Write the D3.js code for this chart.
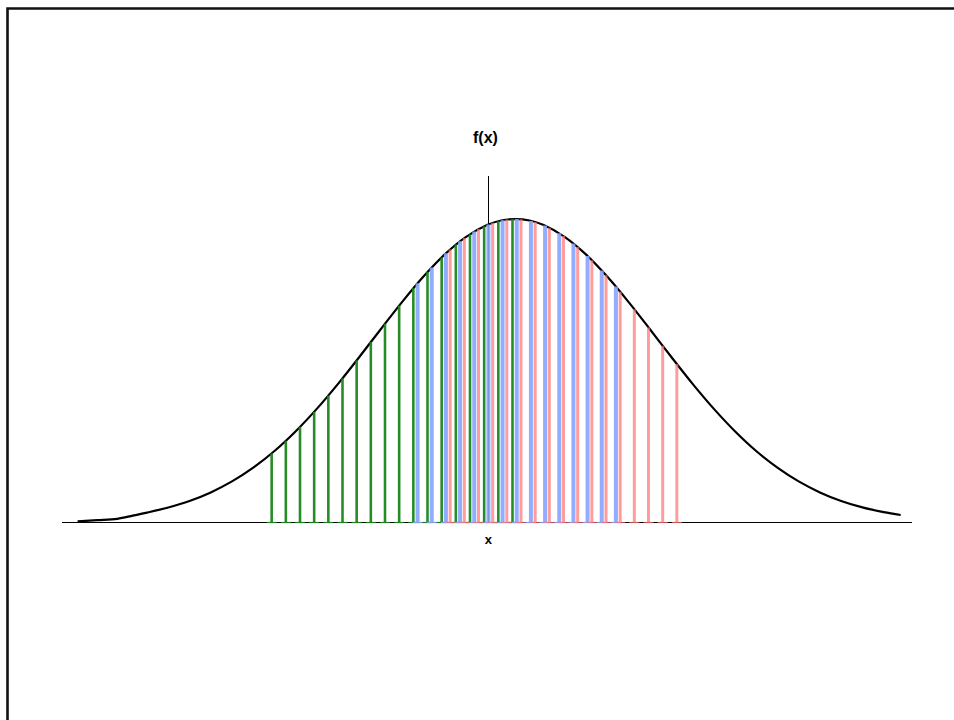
<!DOCTYPE html>
<html>
<head>
<meta charset="utf-8">
<script src="https://cdn.jsdelivr.net/npm/d3@7"></script>
<style>
  html, body { margin: 0; padding: 0; background: #fff; }
  svg { display: block; }
</style>
</head>
<body>
<svg id="chart" width="954" height="720"></svg>
<script>
// Density curve, sampled points (x in standard units, f(x))
const curveX = [-3.09, -2.95, -2.81, -2.7, -2.6, -2.45, -2.3, -2.15, -2.0, -1.85, -1.7, -1.55, -1.4, -1.25, -1.1, -0.95, -0.8, -0.65, -0.5, -0.35, -0.2, -0.1, 0,
                0.1, 0.2, 0.35, 0.5, 0.65, 0.8, 0.95, 1.1, 1.25, 1.4, 1.55, 1.7, 1.85, 2.0, 2.15, 2.3, 2.45, 2.6, 2.72];
const curveY = [0.0015, 0.0030, 0.0048, 0.0090, 0.0130, 0.0198, 0.0283, 0.0396, 0.0540, 0.0721, 0.0940, 0.1200, 0.1497, 0.1826, 0.2179, 0.2541, 0.2897, 0.3230, 0.3521, 0.3752, 0.3910, 0.3970, 0.3989,
                0.3970, 0.3910, 0.3752, 0.3521, 0.3230, 0.2897, 0.2541, 0.2179, 0.1826, 0.1497, 0.1200, 0.0940, 0.0721, 0.0540, 0.0396, 0.0283, 0.0198, 0.0136, 0.0099];

// Drop lines of the three sampled series
const greenX = [-1.72, -1.62, -1.52, -1.42, -1.32, -1.22, -1.12, -1.02, -0.92, -0.82, -0.72, -0.62, -0.52, -0.42, -0.32, -0.22, -0.12, -0.02];
const greenY = [0.0909, 0.1074, 0.1257, 0.1456, 0.1669, 0.1895, 0.2131, 0.2371, 0.2613, 0.2850, 0.3079, 0.3292, 0.3485, 0.3653, 0.3790, 0.3894, 0.3961, 0.3989];

const blueX = [-0.69, -0.59, -0.49, -0.39, -0.29, -0.19, -0.09, 0.01, 0.11, 0.21, 0.31, 0.41, 0.51, 0.61, 0.71];
const blueY = [0.3145, 0.3352, 0.3538, 0.3697, 0.3825, 0.3918, 0.3973, 0.3989, 0.3965, 0.3903, 0.3802, 0.3668, 0.3503, 0.3312, 0.3101];

const redX = [-0.46, -0.36, -0.26, -0.16, -0.06, 0.04, 0.14, 0.24, 0.34, 0.44, 0.54, 0.64, 0.74, 0.84, 0.94, 1.04, 1.14];
const redY = [0.3589, 0.3739, 0.3857, 0.3939, 0.3982, 0.3986, 0.3950, 0.3876, 0.3765, 0.3621, 0.3448, 0.3251, 0.3034, 0.2803, 0.2565, 0.2323, 0.2083];

// Axis extents and labels
const xDomain = [-3.2, 2.8];
const yDomain = [0, 0.4555];
const yAxisAt = -0.19;
const xLabel = "x";
const yLabel = "f(x)";

const svg = d3.select("#chart");
const font = "'Liberation Sans', Arial, Helvetica, sans-serif";

const x = d3.scaleLinear().domain(xDomain).range([62, 912]);
const y = d3.scaleLinear().domain(yDomain).range([522.5, 176]);

// Outer frame (runs off the right and bottom edges)
svg.append("path")
  .attr("d", "M7.5,720 V8.5 H954")
  .attr("fill", "none")
  .attr("stroke", "#111")
  .attr("stroke-width", 2.6);

// Axes: plain lines without ticks
svg.append("line")
  .attr("x1", x(xDomain[0])).attr("x2", x(xDomain[1]))
  .attr("y1", y(0)).attr("y2", y(0))
  .attr("stroke", "#000").attr("stroke-width", 1)
  .attr("shape-rendering", "crispEdges");

svg.append("line")
  .attr("x1", Math.round(x(yAxisAt)) + 0.5).attr("x2", Math.round(x(yAxisAt)) + 0.5)
  .attr("y1", y(yDomain[0])).attr("y2", y(yDomain[1]))
  .attr("stroke", "#000").attr("stroke-width", 1)
  .attr("shape-rendering", "crispEdges");

// Density curve
const pts = curveX.map((v, i) => [v, curveY[i]]);
svg.append("path")
  .datum(pts)
  .attr("d", d3.line().x(d => x(d[0])).y(d => y(d[1])).curve(d3.curveCatmullRom))
  .attr("fill", "none")
  .attr("stroke", "#000")
  .attr("stroke-width", 2.2);

// Drop lines from the axis up to the curve
function drops(xs, ys, color, width, opacity) {
  const g = svg.append("g");
  const data = xs.map((v, i) => [v, ys[i]]);
  g.selectAll("line.stem")
    .data(data)
    .join("line")
    .attr("class", "stem")
    .attr("x1", d => x(d[0])).attr("x2", d => x(d[0]))
    .attr("y1", y(0)).attr("y2", d => y(d[1]))
    .attr("stroke", color)
    .attr("stroke-width", width)
    .attr("stroke-opacity", opacity);
  g.selectAll("line.foot")
    .data(data)
    .join("line")
    .attr("class", "foot")
    .attr("x1", d => x(d[0]) - 5).attr("x2", d => x(d[0]) + 5)
    .attr("y1", y(0)).attr("y2", y(0))
    .attr("stroke", color)
    .attr("stroke-width", 1.2)
    .attr("stroke-opacity", opacity);
}

drops(greenX, greenY, "#1a861a", 2.6, 0.95);
drops(blueX, blueY, "#86a4ff", 4, 0.9);
drops(redX, redY, "#ff7474", 3, 0.7);

// Axis labels
svg.append("text")
  .attr("x", x(yAxisAt) - 3).attr("y", 143)
  .attr("text-anchor", "middle")
  .attr("font-family", font)
  .attr("font-weight", "bold")
  .attr("font-size", 16)
  .text(yLabel);

svg.append("text")
  .attr("x", x(yAxisAt)).attr("y", 544)
  .attr("text-anchor", "middle")
  .attr("font-family", font)
  .attr("font-weight", "bold")
  .attr("font-size", 13)
  .text(xLabel);
</script>
</body>
</html>
